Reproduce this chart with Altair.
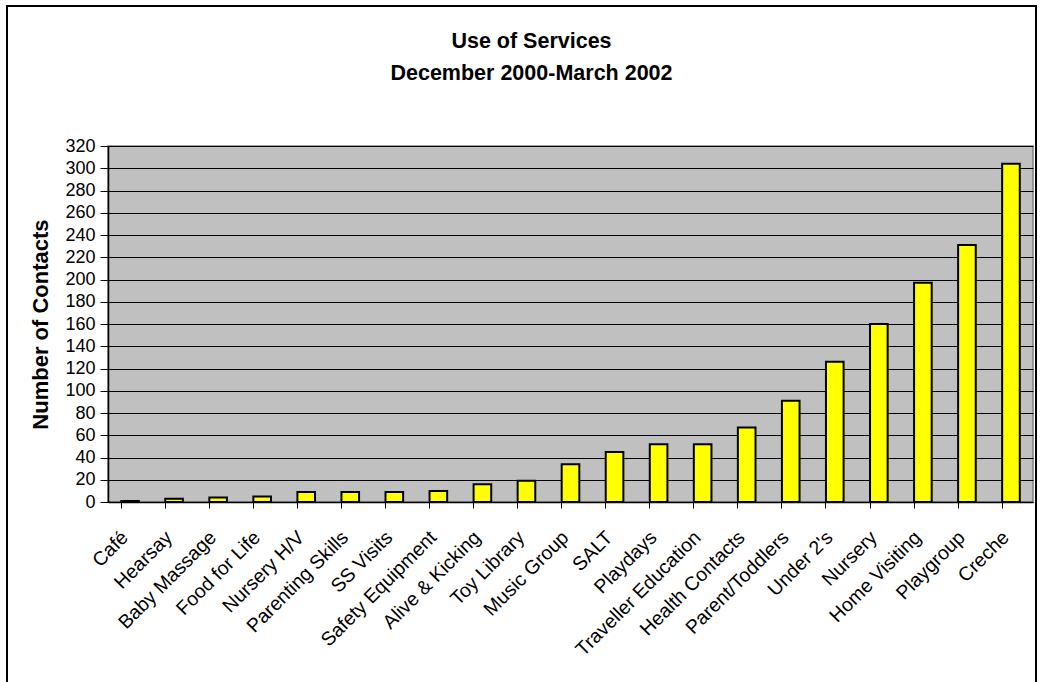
import altair as alt
import pandas as pd

categories = ["Café", "Hearsay", "Baby Massage", "Food for Life", "Nursery H/V",
              "Parenting Skills", "SS Visits", "Safety Equipment", "Alive & Kicking",
              "Toy Library", "Music Group", "SALT", "Playdays", "Traveller Education",
              "Health Contacts", "Parent/Toddlers", "Under 2's", "Nursery",
              "Home Visiting", "Playgroup", "Creche"]
contacts = [1, 3, 4, 5, 9, 9, 9, 10, 16, 19, 34, 45, 52, 52, 67, 91, 126, 160, 197, 231, 304]
y_ticks = [0, 20, 40, 60, 80, 100, 120, 140, 160, 180, 200, 220, 240, 260, 280, 300, 320]

FONT = "Liberation Sans"

df = pd.DataFrame({"service": categories, "contacts": contacts})

bars = alt.Chart(df).mark_bar(
    color="#FFFF00", stroke="#000000", strokeWidth=2
).encode(
    x=alt.X("service:N", sort=categories,
            scale=alt.Scale(paddingInner=0.6, paddingOuter=0.3),
            axis=alt.Axis(title=None, labelAngle=-45, labelAlign="right",
                          labelBaseline="middle", labelPadding=26, labelOffset=-5,
                          bandPosition=0, tickSize=6, tickColor="black",
                          domainColor="black", domainWidth=1.5,
                          labelFont=FONT, labelFontSize=19.5, labelColor="black",
                          labelOverlap=False, labelLimit=300, grid=False)),
    y=alt.Y("contacts:Q", scale=alt.Scale(domain=[0, 320], nice=False),
            axis=alt.Axis(title="Number of Contacts", values=y_ticks, grid=True,
                          gridColor="black", gridWidth=1, tickSize=8,
                          tickColor="black", domainColor="black", domainWidth=1.5,
                          labelPadding=5, labelFont=FONT, labelFontSize=18,
                          labelColor="black", titleFont=FONT, titleFontSize=22,
                          titleFontWeight="bold", titleColor="black",
                          titlePadding=12)),
)

frame = alt.Chart(df.head(1)).mark_rect(
    filled=False, stroke="black", strokeWidth=2
).encode(
    x=alt.value(-101), x2=alt.value(928), y=alt.value(-140), y2=alt.value(700)
)

chart = alt.layer(bars, frame).properties(
    width=925, height=356,
    autosize="none",
    padding={"left": 108, "top": 146, "right": 9, "bottom": 180},
    background="white",
    title=alt.TitleParams(["Use of Services", "December 2000-March 2002"],
                          font=FONT, fontSize=21.5, fontWeight="bold", color="black",
                          anchor="middle", frame="group", dx=-39, offset=0,
                          dy=79, lineHeight=32),
).configure_view(fill="#C0C0C0", stroke="#808080", strokeWidth=1.5)

chart.save("out.html", embed_options={"renderer": "svg", "actions": False})
